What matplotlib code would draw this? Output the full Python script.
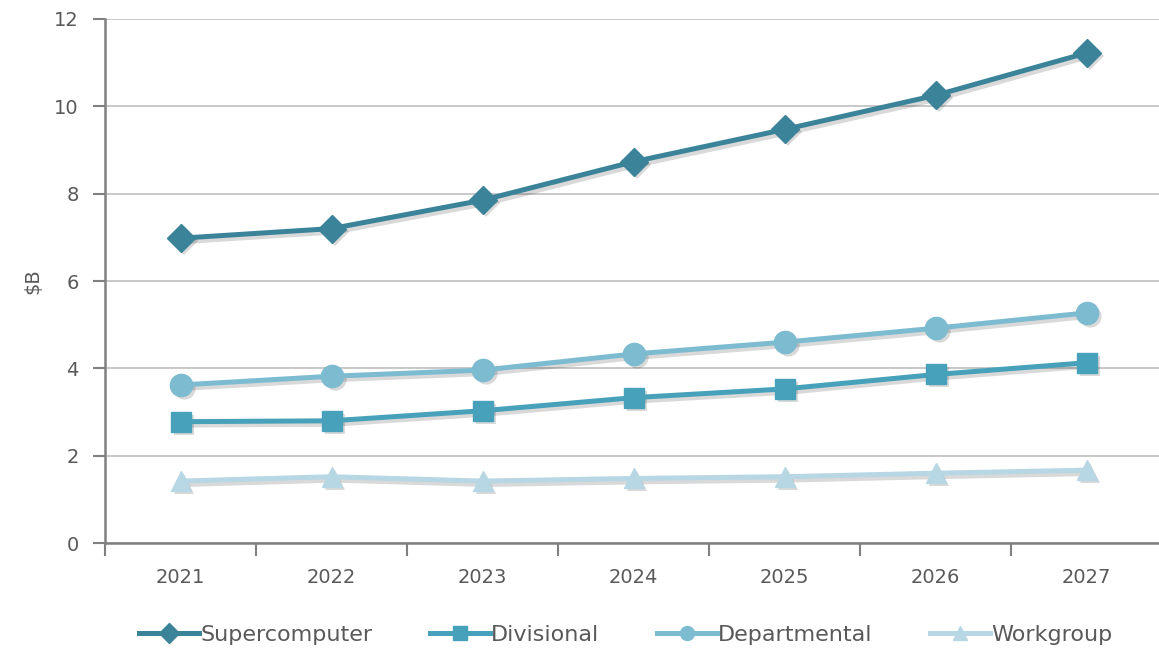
import matplotlib.pyplot as plt
import matplotlib.transforms as mtransforms
import numpy as np

years = ["2021", "2022", "2023", "2024", "2025", "2026", "2027"]

supercomputer = [6.98, 7.20, 7.85, 8.73, 9.47, 10.25, 11.22]
divisional = [2.78, 2.80, 3.03, 3.33, 3.53, 3.86, 4.13]
departmental = [3.62, 3.82, 3.96, 4.33, 4.60, 4.92, 5.27]
workgroup = [1.42, 1.52, 1.42, 1.48, 1.52, 1.60, 1.67]

series = [
    ("Supercomputer", supercomputer, "#3A8399", "D", 14),
    ("Divisional", divisional, "#47A1BA", "s", 15),
    ("Departmental", departmental, "#7DBBD0", "o", 16),
    ("Workgroup", workgroup, "#B6D7E3", "^", 15),
]

text_color = "#595959"
axis_color = "#808080"

fig = plt.figure(figsize=(11.59, 6.52), dpi=100)
ax = fig.add_axes([0.0906, 0.167, 0.912, 0.804])

x = np.arange(len(years))
shadow_tr = mtransforms.offset_copy(ax.transData, fig=fig, x=3, y=-3, units="dots")

for name, vals, color, marker, ms in series:
    # soft drop shadow
    ax.plot(x, vals, color="#000000", alpha=0.15, lw=4.2, marker=marker, markersize=ms,
            markeredgewidth=0, transform=shadow_tr, zorder=2)
    ax.plot(x, vals, color=color, lw=3.6, marker=marker, markersize=ms,
            markeredgecolor=color, label=name, zorder=3)

ax.set_xlim(-0.5, len(years) - 0.5)
ax.set_ylim(0, 12)
ax.set_yticks(range(0, 13, 2))
ax.set_xticks(x)
ax.set_xticklabels(years)
ax.set_xticks(np.arange(-0.5, len(years), 1), minor=True)

ax.yaxis.grid(True, color="#BFBFBF", lw=1.2)
ax.set_axisbelow(True)
for s in ["top", "right"]:
    ax.spines[s].set_visible(False)
for s in ["left", "bottom"]:
    ax.spines[s].set_color(axis_color)
    ax.spines[s].set_linewidth(1.8)

ax.tick_params(axis="y", which="major", length=9, width=1.5, color=axis_color,
               labelcolor=text_color, labelsize=14, pad=10)
ax.tick_params(axis="x", which="major", length=0, labelcolor=text_color,
               labelsize=14, pad=18)
ax.tick_params(axis="x", which="minor", length=9, width=1.5, color=axis_color)

ax.set_ylabel("$B", color=text_color, fontsize=14, labelpad=8)

leg = fig.legend(loc="lower center", bbox_to_anchor=(0.54, -0.02), ncol=4, frameon=False,
                 fontsize=16, handlelength=2.7, handletextpad=0.05, columnspacing=2.6,
                 labelcolor=text_color)
for h in leg.legend_handles:
    h.set_markersize(10)

fig.savefig("out.png", dpi=100)
